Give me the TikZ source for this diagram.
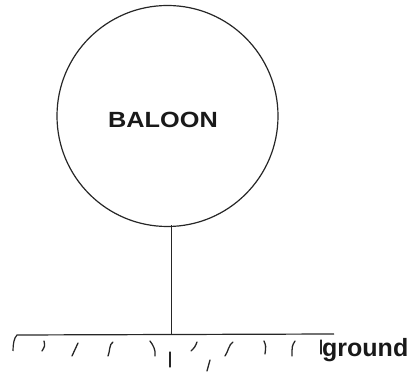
\documentclass[tikz,border=0pt]{standalone}
\usepackage{fontspec}
\setmainfont{Liberation Sans}
\newfontfamily\labfont[FakeStretch=1.15]{Liberation Sans}
\begin{document}
\begin{tikzpicture}[x=1pt,y=-1pt,
  ink/.style={draw=black!85,line width=1.2pt},
  hatch/.style={draw=black!85,line width=1.3pt,line cap=round},
  lbl/.style={font=\labfont\bfseries\fontsize{22}{24}\selectfont,text=black!90,inner sep=0pt}]
\useasboundingbox (0,0) rectangle (416,374);
\node[circle,ink,minimum size=221pt,inner sep=0pt] (baloon) at (167.5,116) {};
\node[lbl,anchor=center] (bname) at (163,120) {BALOON};
\coordinate (stemtop) at (171.5,225.5);
\coordinate (stembot) at (171.5,334);
\coordinate (gl) at (17,335);
\coordinate (gr) at (334,334);
\draw[ink] (stemtop) -- (stembot);
\draw[ink] (gr) -- (gl) .. controls (14,338) and (13,344) .. (13,351);
\node[font=\bfseries\fontsize{25}{27}\selectfont,text=black!90,anchor=base west,inner sep=0pt] (ground) at (322,357) {ground};
% hatch marks
\draw[hatch] (44,341) .. controls (45,346) .. (42,351);
\draw[hatch] (78,343) -- (72,356);
\draw[hatch] (113,342) .. controls (109,344) and (110,352) .. (108,356);
\draw[hatch] (150,341) .. controls (153,345) and (156,350) .. (155,356);
\draw[hatch] (170,352) -- (170,367);
\draw[hatch] (197,342) .. controls (195,347) .. (191,351);
\draw[hatch] (210,360) -- (207,371);
\draw[hatch] (233,342) .. controls (229,344) and (228,352) .. (225,356);
\draw[hatch] (264,341) .. controls (266,346) .. (265,354);
\draw[hatch] (295,341) .. controls (292,346) .. (292,356);
\draw[hatch] (321,340) -- (321,354);
\end{tikzpicture}
\end{document}
